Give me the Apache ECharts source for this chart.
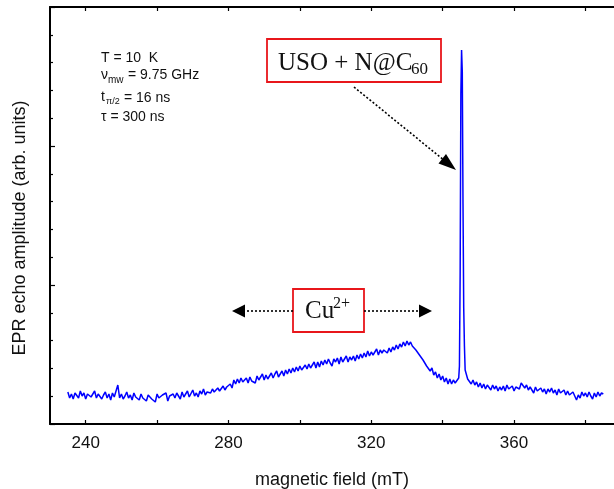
<!DOCTYPE html>
<html>
<head>
<meta charset="utf-8">
<script src="https://cdn.jsdelivr.net/npm/echarts@6/dist/echarts.min.js"></script>
<style>
html, body { margin: 0; padding: 0; background: #fff; }
#epr { width: 614px; height: 489px; }
</style>
</head>
<body>
<div id="epr"></div>
<script>
// field sweep (mT): first point and step
var fieldStart = 235;
var fieldStep = 0.5;
// echo amplitude (arb. units), one value per step; null where the narrow N@C60 line takes over
var echo = [
    32,26,30,25,31,29,26,33,28,31,25,30,32,27,28,33,26,30,31,25,
    29,32,26,30,24,31,27,29,39,26,30,25,28,32,26,29,24,31,27,29,
    24,30,26,28,23,29,31,25,27,22,30,26,24,29,27,31,23,28,26,30,
    26,31,28,25,32,27,30,33,27,29,34,28,31,27,33,30,35,29,32,34,
    31,35,32,30,36,33,35,38,34,37,35,40,36,44,40,45,41,46,42,44,
    46,41,47,43,45,41,48,44,46,50,44,49,45,48,51,46,50,53,47,50,
    53,48,54,50,55,51,56,52,57,53,58,54,52,59,55,60,56,57,62,56,
    62,57,63,59,64,60,65,61,58,65,62,66,60,67,62,64,68,62,67,64,
    68,63,69,65,70,66,71,67,73,68,72,69,71,75,69,74,71,74,76,71,
    76,72,77,74,79,75,80,77,82,78,83,79,82,78,80,74,76,69,71,64,
    65,58,60,53,56,49,52,46,50,44,48,42,46,40,45,40,44,41,40,46,
    null,null,null,52,45,46,40,44,39,42,37,41,36,40,35,39,37,34,39,35,
    38,33,37,34,38,33,39,35,34,38,33,37,36,35,41,40,36,39,34,37,
    36,31,37,33,31,36,32,35,30,35,32,36,31,34,29,35,31,30,34,29,
    33,29,27,32,28,24,29,26,32,28,31,27,32,28,25,31,27,32,28,31,
    30
];
// narrow USO + N@C60 line
var lineField = [344.7, 344.9, 345.1, 345.3, 345.5, 345.7, 345.9, 346.1, 346.3];
var lineEcho = [58, 150, 330, 374, 352, 220, 116, 78, 54];

var labelTicks = [240, 280, 320, 360];
var allTicks = [240, 260, 280, 300, 320, 340, 360, 380];

var points = [];
for (var i = 0; i < echo.length; i++) {
    if (echo[i] !== null) points.push([fieldStart + i * fieldStep, echo[i]]);
}
for (var j = 0; j < lineField.length; j++) {
    points.push([lineField[j], lineEcho[j]]);
}
points.sort(function (a, b) { return a[0] - b[0]; });

var sans = '"Liberation Sans", Arial, sans-serif';
var serif = '"Liberation Serif", "Times New Roman", serif';

function label(x, y, s, size, family) {
    return {
        type: 'text', x: x, y: y, silent: true, z: 10,
        style: { text: s, fontSize: size, fontFamily: family, fill: '#111', align: 'left', verticalAlign: 'middle' }
    };
}
function box(x, y, w, h) {
    return {
        type: 'rect', shape: { x: x, y: y, width: w, height: h }, z: 9,
        style: { fill: '#fff', stroke: '#e8161b', lineWidth: 1.8 }
    };
}
function dotted(pts) {
    return {
        type: 'polyline', shape: { points: pts }, z: 9,
        style: { stroke: '#000', lineWidth: 1.6, lineDash: [2, 2], fill: null }
    };
}
function head(pts) {
    return { type: 'polygon', shape: { points: pts }, z: 9, style: { fill: '#000' } };
}

var chart = echarts.init(document.getElementById('epr'));
chart.setOption({
    animation: false,
    grid: { left: 50, top: 7, right: 0, bottom: 65, outerBoundsMode: 'none' },
    xAxis: [
        {
            type: 'value', min: 230, max: 388,
            name: 'magnetic field (mT)', nameLocation: 'middle', nameGap: 47,
            nameTextStyle: { fontSize: 18, fontFamily: sans, color: '#111' },
            axisLine: { show: true, onZero: false, lineStyle: { color: '#000', width: 2 } },
            axisTick: { show: true, inside: true, length: 4, customValues: allTicks, lineStyle: { color: '#000', width: 1.2 } },
            axisLabel: { customValues: labelTicks, fontSize: 17, fontFamily: sans, color: '#111', margin: 11 },
            splitLine: { show: false }
        },
        {
            type: 'value', min: 230, max: 388, position: 'top',
            axisLine: { show: true, onZero: false, lineStyle: { color: '#000', width: 2 } },
            axisTick: { show: true, inside: true, length: 4, customValues: allTicks, lineStyle: { color: '#000', width: 1.2 } },
            axisLabel: { show: false },
            splitLine: { show: false }
        }
    ],
    yAxis: {
        type: 'value', min: 0, max: 417, interval: 139,
        axisLine: { show: true, onZero: false, lineStyle: { color: '#000', width: 2 } },
        axisTick: { show: true, inside: true, length: 5, lineStyle: { color: '#000', width: 1.2 } },
        minorTick: { show: true, splitNumber: 5, length: 3, lineStyle: { color: '#000', width: 1.2 } },
        axisLabel: { show: false },
        splitLine: { show: false }
    },
    series: [{
        type: 'line',
        data: points,
        showSymbol: false,
        sampling: null,
        lineStyle: { color: '#0000ff', width: 1.5 },
        z: 3
    }],
    graphic: [
        {
            type: 'text', x: 20, y: 228, rotation: Math.PI / 2, silent: true,
            style: { text: 'EPR echo amplitude (arb. units)', fontSize: 18, fontFamily: sans, fill: '#111', align: 'center', verticalAlign: 'middle' }
        },
        label(101, 58, 'T = 10  K', 14, sans),
        label(101, 75, 'ν', 14, sans),
        label(108, 80, 'mw', 10, sans),
        label(128, 75, '= 9.75 GHz', 14, sans),
        label(101, 97, 't', 14, sans),
        label(106, 102, 'π/2', 9, sans),
        label(124, 98, '= 16 ns', 14, sans),
        label(101, 117, 'τ = 300 ns', 14, sans),

        box(267, 39, 174, 43),
        label(278, 63, 'USO + N@C', 25, serif),
        label(411, 70, '60', 17, serif),
        dotted([[354, 87], [445, 161]]),
        head([[456, 170], [438.5, 163.5], [446, 154]]),

        box(293, 289, 71, 43),
        label(305, 311, 'Cu', 25, serif),
        label(333, 304, '2+', 16, serif),
        dotted([[293, 311], [244, 311]]),
        head([[232, 311], [245, 304.5], [245, 317.5]]),
        dotted([[364, 311], [420, 311]]),
        head([[432, 311], [419, 304.5], [419, 317.5]])
    ]
});
</script>
</body>
</html>
